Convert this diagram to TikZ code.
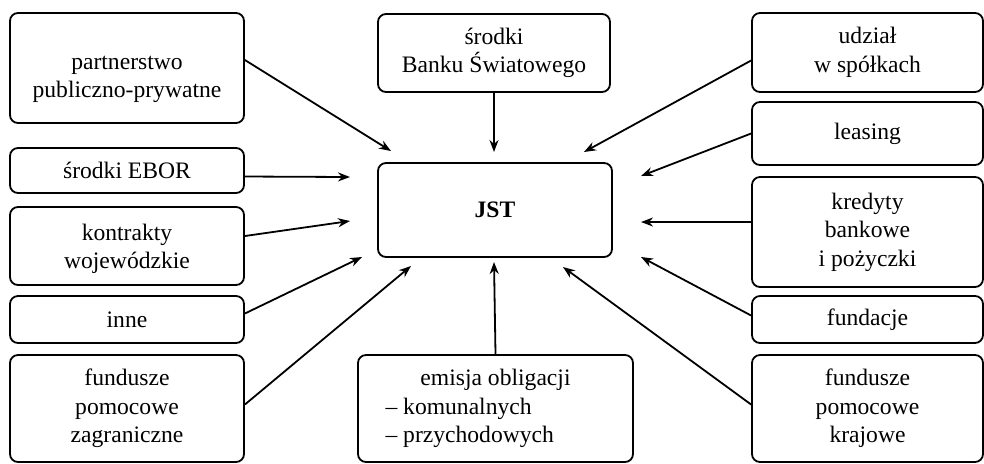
\documentclass[tikz,border=0pt]{standalone}
\usepackage{fontspec}
\setmainfont{Liberation Serif}
\usetikzlibrary{arrows.meta}

\begin{document}
\begin{tikzpicture}[x=0.5pt,y=-0.5pt,
  box/.style={draw,rounded corners=4pt,line width=0.9pt,align=center,inner sep=0pt,
    font=\fontsize{11.8}{14.2}\selectfont},
  arr/.style={-{Stealth[length=6pt,width=4.5pt]},line width=0.9pt}]
  \useasboundingbox (0,0) rectangle (984,463);
  \def\lw{117pt}   % left column
  \def\rw{115.5pt} % right column
  \node[box,minimum width=\lw,minimum height=55pt]   (LP) at (127,68)    {\rule{0pt}{18pt}partnerstwo\\publiczno-prywatne};
  \node[box,minimum width=\lw,minimum height=22.5pt] (LE) at (127,170.5) {środki EBOR};
  \node[box,minimum width=\lw,minimum height=39pt]   (LK) at (127,246)   {\rule{0pt}{11pt}kontrakty\\wojewódzkie};
  \node[box,minimum width=\lw,minimum height=23.5pt] (LI) at (127,319.5) {inne};
  \node[box,minimum width=\lw,minimum height=53.5pt] (LF) at (127,408.5) {fundusze\\pomocowe\\zagraniczne};
  \node[box,minimum width=\rw,minimum height=39.5pt] (RU) at (867.5,52.5)  {udział\\w spółkach};
  \node[box,minimum width=\rw,minimum height=31.5pt] (RL) at (867.5,133.5) {leasing};
  \node[box,minimum width=\rw,minimum height=55pt]   (RK) at (867.5,232)   {kredyty\\bankowe\\i pożyczki};
  \node[box,minimum width=\rw,minimum height=23.5pt] (RF) at (867.5,319.5) {fundacje};
  \node[box,minimum width=\rw,minimum height=53.5pt] (RP) at (867.5,408.5) {fundusze\\pomocowe\\krajowe};
  % middle
  \node[box,minimum width=116pt,minimum height=39pt]   (BS)  at (494,53)    {środki\\Banku Światowego};
  \node[box,minimum width=117pt,minimum height=47pt]   (JST) at (495,210)   {\bfseries JST};
  \node[box,minimum width=137.5pt,minimum height=53.5pt] (EM) at (495.5,408.5)
    {emisja obligacji\\\makebox[110pt][l]{-- komunalnych}\\\makebox[110pt][l]{-- przychodowych}};
  % arrow ends round JST
  \coordinate (eLP) at (391,151);
  \coordinate (eLE) at (350,177);
  \coordinate (eLK) at (350,221);
  \coordinate (eLI) at (362,257);
  \coordinate (eLF) at (411,266);
  \coordinate (eBS) at (494,152);
  \coordinate (eEM) at (494,262);
  \coordinate (eRU) at (584,152);
  \coordinate (eRL) at (641,176);
  \coordinate (eRK) at (641,222);
  \coordinate (eRF) at (641,257);
  \coordinate (eRP) at (563,267);
  \draw[arr] ([yshift=4pt]LP.east) -- (eLP);
  \draw[arr] ([yshift=-3pt]LE.east) -- (eLE);
  \draw[arr] ([yshift=5pt]LK.east) -- (eLK);
  \draw[arr] ([yshift=3pt]LI.east) -- (eLI);
  \draw[arr] ([yshift=2pt]LF.east) -- (eLF);
  \draw[arr] (BS.south) -- (eBS);
  \draw[arr] (EM.north) -- (eEM);
  \draw[arr] ([yshift=-4pt]RU.west) -- (eRU);
  \draw[arr] (RL.west) -- (eRL);
  \draw[arr] ([yshift=5pt]RK.west) -- (eRK);
  \draw[arr] ([yshift=2pt]RF.west) -- (eRF);
  \draw[arr] ([yshift=2pt]RP.west) -- (eRP);
\end{tikzpicture}
\end{document}
